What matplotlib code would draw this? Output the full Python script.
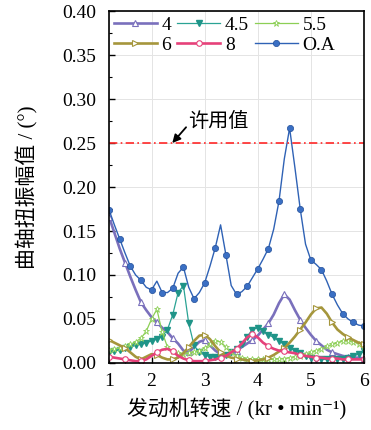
import matplotlib
matplotlib.use("Agg")
import matplotlib.pyplot as plt
import numpy as np
from matplotlib.ticker import MultipleLocator, FormatStrFormatter

plt.rcParams['font.family'] = ['Liberation Serif', 'Noto Sans CJK SC', 'DejaVu Sans']

# engine speed, kr/min (0.1 step)
speed = np.round(np.arange(1.2, 6.01, 0.1), 1)

order_4 = [0.166, 0.148, 0.130, 0.114, 0.098, 0.083, 0.069, 0.060, 0.052, 0.046,
           0.040, 0.035, 0.028, 0.022, 0.014, 0.012, 0.018, 0.024, 0.026, 0.020,
           0.014, 0.010, 0.008, 0.010, 0.014, 0.018, 0.022, 0.026, 0.031, 0.038,
           0.045, 0.055, 0.068, 0.078, 0.072, 0.060, 0.049, 0.040, 0.032, 0.025,
           0.020, 0.015, 0.012, 0.010, 0.008, 0.007, 0.006, 0.006, 0.005]
order_45 = [0.012, 0.013, 0.015, 0.017, 0.018, 0.020, 0.021, 0.023, 0.025, 0.027,
            0.030, 0.038, 0.055, 0.080, 0.088, 0.045, 0.020, 0.012, 0.009, 0.007,
            0.007, 0.007, 0.009, 0.012, 0.016, 0.022, 0.030, 0.038, 0.040, 0.036,
            0.032, 0.029, 0.025, 0.021, 0.017, 0.014, 0.011, 0.008, 0.006, 0.005,
            0.004, 0.004, 0.004, 0.004, 0.005, 0.006, 0.008, 0.010, 0.013]
order_55 = [0.015, 0.016, 0.017, 0.019, 0.021, 0.024, 0.028, 0.036, 0.050, 0.061,
            0.035, 0.018, 0.013, 0.011, 0.010, 0.011, 0.012, 0.014, 0.017, 0.021,
            0.025, 0.024, 0.018, 0.012, 0.008, 0.006, 0.005, 0.004, 0.004, 0.004,
            0.004, 0.004, 0.005, 0.005, 0.006, 0.007, 0.008, 0.010, 0.012, 0.014,
            0.016, 0.019, 0.021, 0.023, 0.025, 0.025, 0.024, 0.022, 0.019]
order_6 = [0.026, 0.023, 0.020, 0.017, 0.012, 0.007, 0.004, 0.007, 0.010, 0.009,
           0.006, 0.004, 0.004, 0.006, 0.011, 0.018, 0.025, 0.031, 0.032, 0.027,
           0.019, 0.012, 0.008, 0.006, 0.005, 0.004, 0.003, 0.002, 0.003, 0.004,
           0.006, 0.009, 0.013, 0.017, 0.023, 0.030, 0.038, 0.046, 0.055, 0.062,
           0.063, 0.056, 0.046, 0.038, 0.033, 0.029, 0.026, 0.023, 0.021]
order_8 = [0.007, 0.006, 0.005, 0.004, 0.003, 0.002, 0.002, 0.004, 0.008, 0.012,
           0.015, 0.016, 0.013, 0.008, 0.005, 0.003, 0.002, 0.002, 0.002, 0.003,
           0.004, 0.006, 0.008, 0.012, 0.016, 0.022, 0.029, 0.033, 0.029, 0.023,
           0.019, 0.016, 0.014, 0.013, 0.012, 0.011, 0.009, 0.008, 0.007, 0.006,
           0.006, 0.005, 0.005, 0.005, 0.004, 0.004, 0.004, 0.004, 0.004]
overall = [0.174, 0.157, 0.141, 0.125, 0.110, 0.100, 0.094, 0.086, 0.083, 0.093,
           0.080, 0.080, 0.085, 0.102, 0.109, 0.086, 0.073, 0.080, 0.091, 0.110,
           0.131, 0.157, 0.123, 0.088, 0.078, 0.081, 0.087, 0.097, 0.107, 0.118,
           0.130, 0.152, 0.184, 0.232, 0.267, 0.222, 0.175, 0.135, 0.117, 0.112,
           0.106, 0.093, 0.078, 0.066, 0.056, 0.050, 0.046, 0.043, 0.042]

limit_value = 0.25
x_ticks = [1.2, 2, 3, 4, 5, 6]
x_ticklabels = ['1', '2', '3', '4', '5', '6']

fig = plt.figure(figsize=(3.71, 4.30), dpi=100)
ax = fig.add_axes([0.294, 0.156, 0.687, 0.818])

l4, = ax.plot(speed, order_4, color='#7a70bc', lw=1.9, marker='^', ms=4.5,
              mfc='white', mec='#7a70bc', mew=0.8, markevery=3, label='4')
l45, = ax.plot(speed, order_45, color='#2aa394', lw=0.9, marker='v', ms=4.5,
               mfc='#1f9488', mec='#1f9488', markevery=1, label='4.5')
l55, = ax.plot(speed, order_55, color='#8ccf55', lw=0.9, marker='*', ms=5,
               mfc='white', mec='#8ccf55', mew=0.6, markevery=1, label='5.5')
l6, = ax.plot(speed, order_6, color='#a5963c', lw=1.9, marker='>', ms=4.5,
              mfc='white', mec='#a5963c', mew=0.8, markevery=3, label='6')
l8, = ax.plot(speed, order_8, color='#e6417a', lw=1.9, marker='o', ms=4,
              mfc='white', mec='#e6417a', mew=0.8, markevery=3, label='8')
loa, = ax.plot(speed, overall, color='#2f62b5', lw=1.0, marker='o', ms=4.5,
               mfc='#3a6fc4', mec='#24509a', mew=0.5, markevery=2, label='O.A')

ax.axhline(limit_value, color='#ff2828', lw=1.2, ls=(0, (5, 2, 1, 2)))
ax.annotate('', xy=(2.39, limit_value), xytext=(2.65, 0.268),
            arrowprops=dict(arrowstyle='-|>', color='black', lw=1.3,
                            mutation_scale=12, shrinkA=0, shrinkB=0))
ax.text(2.69, 0.274, '许用值', fontsize=14.5, ha='left', va='center')

ax.set_xlim(1.2, 6)
ax.set_ylim(0, 0.40)
ax.set_xticks(x_ticks)
ax.set_xticklabels(x_ticklabels)
ax.xaxis.set_minor_locator(MultipleLocator(0.5))
ax.yaxis.set_major_locator(MultipleLocator(0.05))
ax.yaxis.set_minor_locator(MultipleLocator(0.025))
ax.yaxis.set_major_formatter(FormatStrFormatter('%.2f'))
ax.tick_params(which='both', direction='in', labelsize=14)
ax.tick_params(which='major', length=4, width=1)
ax.tick_params(which='minor', length=2.5, width=0.8)
ax.tick_params(axis='y', which='major', pad=9)
ax.tick_params(axis='x', which='major', pad=7)
ax.grid(True, which='major', color='#e4e4e4', lw=0.7)
ax.set_axisbelow(True)
for sp in ax.spines.values():
    sp.set_linewidth(1.2)

ax.set_xlabel('发动机转速 / (kr • min⁻¹)', fontsize=15, labelpad=6)
ax.set_ylabel('曲轴扭振幅值 / (°)', fontsize=15, labelpad=17)

# column-major order so the rows read 4, 4.5, 5.5 / 6, 8, O.A
ax.legend([l4, l6, l45, l8, l55, loa], ['4', '6', '4.5', '8', '5.5', 'O.A'],
          loc='upper left', ncol=3, frameon=False, fontsize=14,
          handlelength=2.2, handletextpad=0.25, columnspacing=0.3,
          labelspacing=0.15, borderaxespad=0.15, borderpad=0.1)

plt.savefig('out.png', dpi=100)
